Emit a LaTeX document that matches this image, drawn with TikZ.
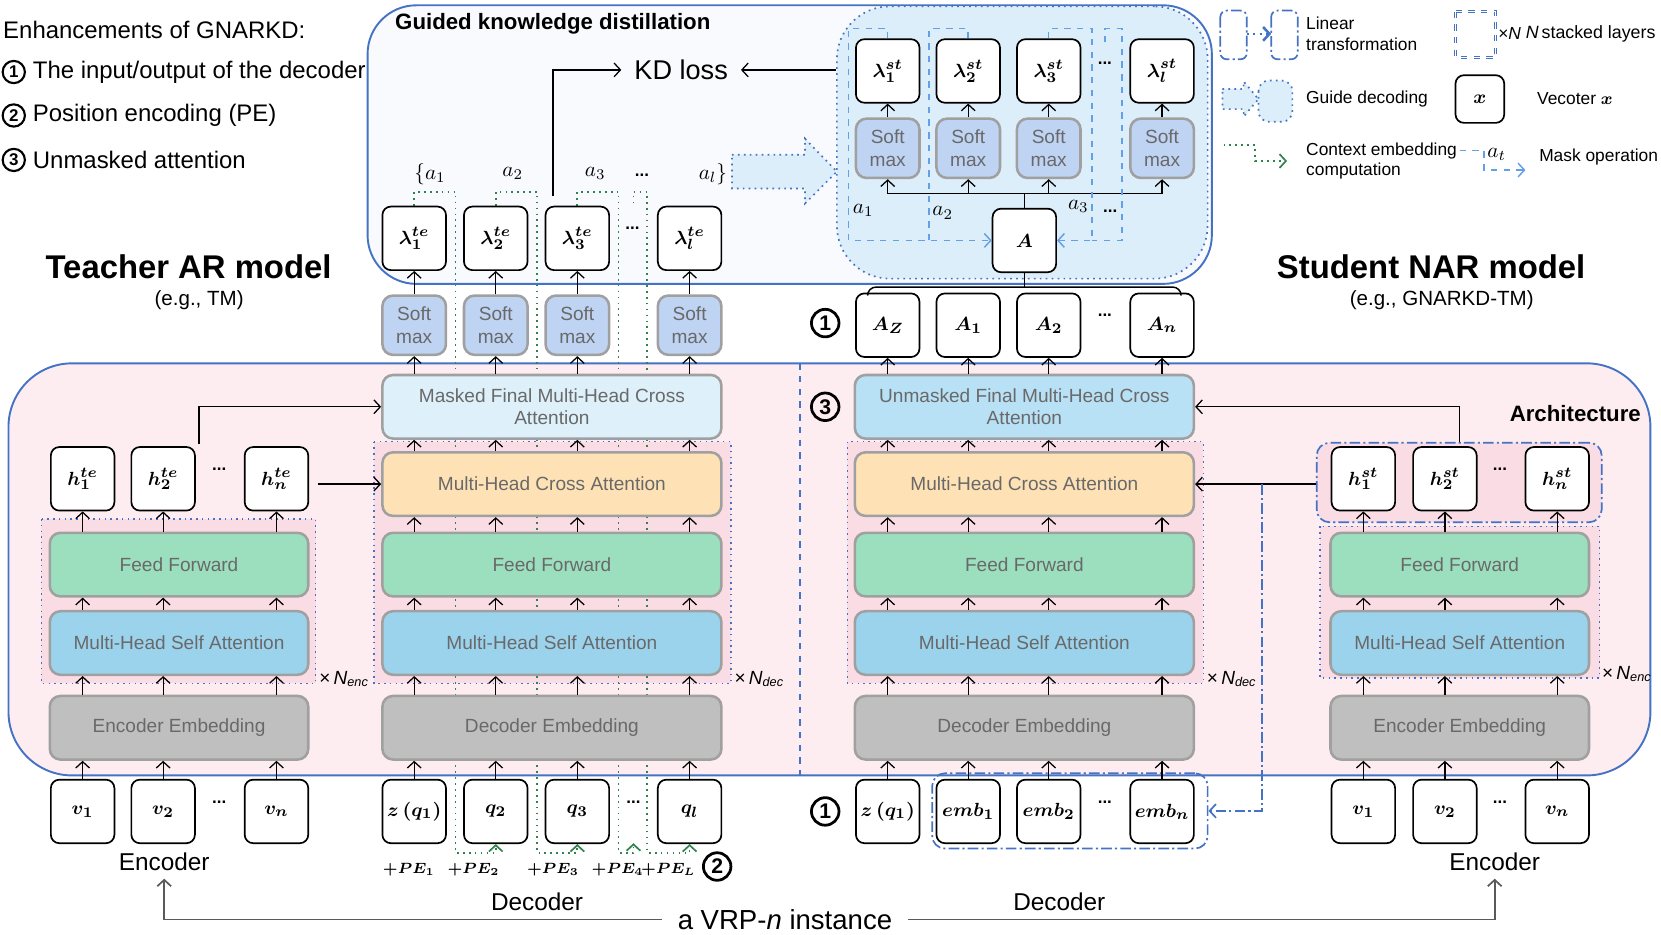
\documentclass[tikz,border=0pt]{standalone}
\usepackage[no-math]{fontspec}
\setmainfont{Liberation Sans}
\usepackage{amsmath}
\usetikzlibrary{arrows.meta,positioning,calc}

\definecolor{kdblue}{RGB}{68,114,196}
\definecolor{maskblue}{RGB}{100,160,230}
\definecolor{ctxgreen}{RGB}{50,130,80}
\definecolor{boxgray}{RGB}{160,160,160}
\definecolor{txtgray}{RGB}{105,105,105}
\definecolor{embgray}{RGB}{191,191,191}
\definecolor{sattn}{RGB}{155,211,237}
\definecolor{ffgreen}{RGB}{155,223,190}
\definecolor{cattn}{RGB}{254,226,182}
\definecolor{mfinal}{RGB}{222,240,250}
\definecolor{ufinal}{RGB}{185,225,245}
\definecolor{smax}{RGB}{191,211,243}
\definecolor{archpink}{RGB}{253,237,241}
\definecolor{stackpink}{RGB}{250,221,228}
\definecolor{kdfill}{RGB}{248,250,254}
\definecolor{guidefill}{RGB}{220,238,250}
\definecolor{vrpgray}{RGB}{90,90,90}

\pgfdeclarelayer{back}
\pgfdeclarelayer{mid}
\pgfsetlayers{back,mid,main}

\tikzset{
  arr/.style={-{Straight Barb[length=3pt,width=6.5pt]}, line width=0.6pt},
  vec/.style={draw, line width=0.8pt, rounded corners=4pt, fill=white,
    minimum width=30pt, minimum height=30pt, inner sep=0pt,
    font=\fontsize{9.5}{11}\selectfont\boldmath},
  blk/.style={draw=boxgray, line width=1.2pt, rounded corners=5pt,
    minimum height=30pt, inner sep=1pt, text=txtgray, align=center,
    font=\fontsize{9}{10.5}\selectfont},
  softbox/.style={blk, fill=smax, minimum width=30pt, minimum height=28pt},
  stackbox/.style={draw=kdblue, dotted, line width=0.7pt, fill=stackpink},
  lintr/.style={draw=kdblue, line width=0.8pt,
    dash pattern=on 5pt off 1.5pt on 1pt off 1.5pt},
  ctxline/.style={ctxgreen, dotted, line width=0.8pt},
  ctxarr/.style={ctxline, -{Straight Barb[length=3pt,width=6.5pt]}},
  maskline/.style={maskblue, dashed, line width=0.7pt},
  maskarr/.style={maskline, -{Straight Barb[length=3pt,width=6.5pt]}},
  cnum/.style={circle, draw, line width=1.3pt, inner sep=0pt, minimum size=13pt,
    font=\fontsize{10}{10}\selectfont\bfseries},
  cnumsm/.style={circle, draw, line width=1pt, inner sep=0pt, minimum size=10.5pt,
    font=\fontsize{8}{8}\selectfont\bfseries},
  ell/.style={font=\bfseries\fontsize{8}{8}\selectfont, inner sep=1pt},
  xn/.style={font=\fontsize{9}{10}\selectfont, anchor=west, inner sep=1pt},
  legtext/.style={font=\fontsize{8.2}{9.8}\selectfont, anchor=west, align=left},
}

\begin{document}
\begin{tikzpicture}[x=0.5pt, y=-0.5pt]
\useasboundingbox (0,0) rectangle (1568,882);

% regions
\begin{pgfonlayer}{back}
  \node[draw=kdblue, line width=0.9pt, fill=kdfill, rounded corners=23pt,
    minimum width=398.5pt, minimum height=131.5pt, inner sep=0pt] (gkd) at (745.5,136.5) {};
  \node[draw=kdblue, dotted, line width=0.8pt, fill=guidefill, rounded corners=25pt,
    minimum width=175pt, minimum height=128.5pt, inner sep=0pt] (guide) at (965,134.5) {};
  \draw[kdblue, dotted, line width=0.8pt, fill=guidefill]
    (691,146) -- (760,146) -- (760,131) -- (790,162) -- (760,192) -- (760,178) -- (691,178) -- cycle;
  \node[draw=kdblue, line width=0.9pt, fill=archpink, rounded corners=30pt,
    minimum width=775pt, minimum height=194.5pt, inner sep=0pt] (arch) at (783,537.5) {};
  \draw[kdblue, dashed, line width=0.7pt] (755,343) -- (755,732);
  % stacked layers
  \draw[stackbox] (39,490) rectangle (298,645);
  \draw[stackbox] (353,417) rectangle (690,645);
  \draw[stackbox] (800,417) rectangle (1136,645);
  \draw[stackbox] (1246,497) rectangle (1510,640);
\end{pgfonlayer}

% enhancements
\node[anchor=west, font=\fontsize{11.3}{13}\selectfont] (enh) at (-4,28) {Enhancements of GNARKD:};
\foreach \y/\n/\t in {68/1/{The input/output of the decoder},109/2/{Position encoding (PE)},151/3/{Unmasked attention}} {
  \node[cnumsm] (enh\n) at (13,\y) {\n};
  \node[anchor=west, font=\fontsize{11.3}{13}\selectfont] at (24,\y) {\t};
}

% titles
\node[font=\bfseries\fontsize{15.5}{18}\selectfont] (tetitle) at (178,252) {Teacher AR model};
\node[font=\fontsize{9.7}{11}\selectfont] at (188,283) {(e.g., TM)};
\node[font=\bfseries\fontsize{15.5}{18}\selectfont] (sttitle) at (1351,252) {Student NAR model};
\node[font=\fontsize{9.7}{11}\selectfont] at (1361,283) {(e.g., GNARKD-TM)};
\node[anchor=west, font=\bfseries\fontsize{10.5}{12}\selectfont] at (366,22) {Guided knowledge distillation};
\node[anchor=east, font=\bfseries\fontsize{10.5}{12}\selectfont] at (1556,390) {Architecture};

% teacher encoder
\node[blk, fill=embgray, minimum width=122pt] (teee) at (169,687) {Encoder Embedding};
\node[blk, fill=sattn, minimum width=122pt] (tesa) at (169,607) {Multi-Head Self Attention};
\node[blk, fill=ffgreen, minimum width=122pt] (teff) at (169,533) {Feed Forward};
\node[xn] at (299,641) {×\,\textit{N}\textsubscript{\textit{enc}}};
\foreach \x/\n in {78/1,154/2,261/n} {
  \node[vec] (tev\n) at (\x,766) {$v_{\n}$};
  \node[vec] (teh\n) at (\x,452) {$h_{\n}^{te}$};
  \draw[arr] (tev\n.north) -- (tev\n.north |- teee.south);
  \draw[arr] (tev\n.north |- teee.north) -- (tev\n.north |- tesa.south);
  \draw[arr] (tev\n.north |- tesa.north) -- (tev\n.north |- teff.south);
  \draw[arr] (tev\n.north |- teff.north) -- (teh\n.south);
}
\node[ell] at (207,757) {...};
\node[ell] at (207,443) {...};
\node[font=\fontsize{11.5}{13}\selectfont] (teenc) at (155,814) {Encoder};

% teacher decoder
\node[blk, fill=embgray, minimum width=160pt] (tdde) at (521,687) {Decoder Embedding};
\node[blk, fill=sattn, minimum width=160pt] (tdsa) at (521,607) {Multi-Head Self Attention};
\node[blk, fill=ffgreen, minimum width=160pt] (tdff) at (521,533) {Feed Forward};
\node[blk, fill=cattn, minimum width=160pt] (tdca) at (521,457) {Multi-Head Cross Attention};
\node[blk, fill=mfinal, minimum width=160pt] (tdfin) at (521,384) {Masked Final Multi-Head Cross\\Attention};
\node[xn] at (691,641) {×\,\textit{N}\textsubscript{\textit{dec}}};
\node[vec] (tdq1) at (391,766) {$z\,(q_1)$};
\foreach \x/\n in {468/2,545/3,651/l}
  \node[vec] (tdq\n) at (\x,766) {$q_{\n}$};
\foreach \x/\n in {391/1,468/2,545/3,651/l} {
  \node[softbox] (tds\n) at (\x,307) {Soft\\max};
  \node[vec] (tdl\n) at (\x,225) {$\lambda_{\n}^{te}$};
  \draw[arr] (tdq\n.north) -- (tdq\n.north |- tdde.south);
  \draw[arr] (tdq\n.north |- tdde.north) -- (tdq\n.north |- tdsa.south);
  \draw[arr] (tdq\n.north |- tdsa.north) -- (tdq\n.north |- tdff.south);
  \draw[arr] (tdq\n.north |- tdff.north) -- (tdq\n.north |- tdca.south);
  \draw[arr] (tdq\n.north |- tdca.north) -- (tdq\n.north |- tdfin.south);
  \draw[arr] (tdq\n.north |- tdfin.north) -- (tds\n.south);
  \draw[arr] (tds\n.north) -- (tdl\n.south);
}
\node[ell] at (598,757) {...};
\node[ell] at (597,215) {...};
\node at (406,164) {$\{a_1$};
\node at (484,164) {$a_2$};
\node at (562,164) {$a_3$};
\node[ell] at (606,165) {...};
\node at (673,164) {$a_l\}$};
\foreach \x/\t in {386/1,447/2,522/3,583/4,631/L}
  \node[font=\fontsize{7.5}{9}\selectfont\boldmath, inner sep=0pt] at (\x,821) {$+PE_{\t}$};
\node[cnum] (c2) at (677,818) {2};
\node[font=\fontsize{11.5}{13}\selectfont] (tddec) at (507,851) {Decoder};
\draw[arr] ([xshift=1.5pt,yshift=1pt]teh2.north east) |- (tdfin.west);
\draw[arr] ([xshift=4pt]tehn.east |- tdca.west) -- (tdca.west);

% student decoder
\node[blk, fill=embgray, minimum width=160pt] (sdde) at (967,687) {Decoder Embedding};
\node[blk, fill=sattn, minimum width=160pt] (sdsa) at (967,607) {Multi-Head Self Attention};
\node[blk, fill=ffgreen, minimum width=160pt] (sdff) at (967,533) {Feed Forward};
\node[blk, fill=cattn, minimum width=160pt] (sdca) at (967,457) {Multi-Head Cross Attention};
\node[blk, fill=ufinal, minimum width=160pt] (sdfin) at (967,384) {Unmasked Final Multi-Head Cross\\Attention};
\node[xn] at (1137,641) {×\,\textit{N}\textsubscript{\textit{dec}}};
\node[lintr, rounded corners=6pt, minimum width=130pt, minimum height=35.5pt, inner sep=0pt] (eg) at (1010,765.5) {};
\foreach \x/\n/\t in {838/1/{z\,(q_1)},914/2/{emb_1},990/3/{emb_2},1097/4/{emb_n}}
  \node[vec] (sdin\n) at (\x,766) {$\t$};
\foreach \x/\n/\t in {838/1/{A_Z},914/2/{A_1},990/3/{A_2},1097/4/{A_n}}
  \node[vec] (sdA\n) at (\x,307) {$\t$};
\foreach \x/\n/\t in {838/1/1,914/2/2,990/3/3,1097/4/l} {
  \node[softbox] (sds\n) at (\x,140) {Soft\\max};
  \node[vec] (sdl\n) at (\x,67) {$\lambda_{\t}^{st}$};
}
\node[vec] (sda) at (967,227) {$A$};
\coordinate (sbar) at (967,183);
\draw[line width=0.6pt] (sds1.south |- sbar) -- (sds4.south |- sbar);
\draw[line width=0.6pt] (sda.north) -- (sbar);
\foreach \n in {1,2,3,4} {
  \draw[arr] (sdin\n.north) -- (sdin\n.north |- sdde.south);
  \draw[arr] (sdin\n.north |- sdde.north) -- (sdin\n.north |- sdsa.south);
  \draw[arr] (sdin\n.north |- sdsa.north) -- (sdin\n.north |- sdff.south);
  \draw[arr] (sdin\n.north |- sdff.north) -- (sdin\n.north |- sdca.south);
  \draw[arr] (sdin\n.north |- sdca.north) -- (sdin\n.north |- sdfin.south);
  \draw[arr] (sdin\n.north |- sdfin.north) -- (sdA\n.south);
  \draw[arr] (sds\n.south |- sbar) -- (sds\n.south);
  \draw[arr] (sds\n.north) -- (sdl\n.south);
}
\draw[line width=0.7pt] (sda.south) -- (sda.south |- 0,271);
\draw[line width=0.7pt, rounded corners=4pt] (819,279) -- (819,271) -- (1115,271) -- (1115,279);
\node[ell] at (1043,757) {...};
\node[ell] at (1043,298) {...};
\node[ell] at (1043,60) {...};
\node at (815,199) {$a_1$};
\node at (890,201) {$a_2$};
\node at (1018,195) {$a_3$};
\node[ell] at (1048,199) {...};
\node[cnum] (c1a) at (779,305) {1};
\node[cnum] (c3) at (779,384) {3};
\node[cnum] (c1b) at (779,766) {1};
\node[font=\fontsize{11.5}{13}\selectfont] (sddec) at (1000,851) {Decoder};

% mask operation
\draw[maskarr] (sdl1.north) |- (801,27) |- (sda.west);
\draw[maskline] (sdl2.north) |- (877,27) -- (877,227);
\draw[maskarr] (sdl3.north) |- (1031,27) |- (sda.east);
\draw[maskline] (1043,40) |- (1059,27) |- (1031,227);

% KD loss
\node[inner sep=6pt, font=\fontsize{12.8}{14}\selectfont] (kd) at (643,66) {KD loss};
\draw[arr] ([shift={(-11.5pt,4.5pt)}]tdl3.north) |- (kd.west);
\draw[arr] (guide.west |- kd) -- (kd.east);

% student encoder
\node[blk, fill=embgray, minimum width=122pt] (seee) at (1378,687) {Encoder Embedding};
\node[blk, fill=sattn, minimum width=122pt] (sesa) at (1378,607) {Multi-Head Self Attention};
\node[blk, fill=ffgreen, minimum width=122pt] (seff) at (1378,533) {Feed Forward};
\node[xn] at (1510,636) {×\,\textit{N}\textsubscript{\textit{enc}}};
\node[lintr, fill=stackpink, rounded corners=6pt, minimum width=134.5pt, minimum height=37.5pt, inner sep=0pt] (seg) at (1377.5,455.5) {};
\foreach \x/\n in {1287/1,1364/2,1470/n} {
  \node[vec] (sev\n) at (\x,766) {$v_{\n}$};
  \node[vec] (seh\n) at (\x,452) {$h_{\n}^{st}$};
  \draw[arr] (sev\n.north) -- (sev\n.north |- seee.south);
  \draw[arr] (sev\n.north |- seee.north) -- (sev\n.north |- sesa.south);
  \draw[arr] (sev\n.north |- sesa.north) -- (sev\n.north |- seff.south);
  \draw[arr] (sev\n.north |- seff.north) -- (seh\n.south);
}
\node[ell] at (1416,757) {...};
\node[ell] at (1416,443) {...};
\node[font=\fontsize{11.5}{13}\selectfont] (seenc) at (1411,814) {Encoder};
\draw[arr] (seg.west |- sdca.east) -- (sdca.east);
\draw[arr] ([xshift=7pt]seh2.north |- seg.north) |- (sdfin.east);
\coordinate (lk) at (1191,457);
\draw[lintr, -{Straight Barb[length=3pt,width=6.5pt]}] (lk) |- (eg.east);

% VRP instance
\node[font=\fontsize{13}{15}\selectfont] (vrp) at (741,868) {a VRP-\textit{n} instance};
\draw[vrpgray, line width=0.8pt, -{Straight Barb[length=3pt,width=6.5pt]}, shorten <=4pt] (vrp.west) -| (teenc.south);
\draw[vrpgray, line width=0.8pt, -{Straight Barb[length=3pt,width=6.5pt]}, shorten <=4pt] (vrp.east) -| (seenc.south);

% context embedding
\begin{pgfonlayer}{mid}
  \draw[ctxarr] (tdl1.north) |- (430,181) -- (430,805) -| (tdq2.south);
  \draw[ctxarr] (tdl2.north) |- (507,181) -- (507,805) -| (tdq3.south);
  \draw[ctxarr] (tdl3.north) |- (584,181) -- (584,805) -| (598,796);
  \draw[ctxarr] (598,192) |- (611,181) -- (611,805) -| (tdql.south);
\end{pgfonlayer}

% legend
\draw[lintr, rounded corners=3pt] (1152,10) rectangle (1177,56);
\draw[lintr, rounded corners=3pt] (1200,10) rectangle (1225,56);
\draw[kdblue, dotted, line width=1pt, -{Straight Barb[length=3pt,width=6.5pt,line width=1.2pt]}] (1177,32) -- (1200,32);
\node[legtext] at (1226,32) {Linear\\transformation};
\draw[kdblue, dashed, double=white, double distance=0.6pt, line width=0.5pt] (1374,11) rectangle (1412,54);
\node[font=\fontsize{8.2}{10}\selectfont, anchor=west, inner sep=0pt] at (1414,32) {×\textit{N}};
\node[font=\fontsize{8.4}{10}\selectfont, anchor=west, inner sep=0pt] at (1440,32) {\textit{N}\,stacked layers};
\draw[kdblue, dotted, line width=0.8pt, fill=guidefill]
  (1154,84) -- (1174,84) -- (1174,77) -- (1188,93.5) -- (1174,110) -- (1174,103) -- (1154,103) -- cycle;
\draw[kdblue, dotted, line width=0.8pt, fill=guidefill, rounded corners=5pt] (1188,76) rectangle (1220,115);
\node[legtext] at (1226,93.5) {Guide decoding};
\node[vec, minimum width=23pt, minimum height=22.5pt] (legx) at (1397,93.5) {$x$};
\node[legtext] at (1444,93.5) {Vecoter {\boldmath$x$}};
\draw[ctxarr] (1155,137) -| (1185,152) -- (1215,152);
\node[legtext] at (1226,152) {Context embedding\\computation};
\draw[maskarr] (1378,142) -| (1401,160.5) -- (1440,160.5);
\node at (1413,146) {$a_t$};
\node[legtext] at (1446,148) {Mask operation};
\end{tikzpicture}
\end{document}
